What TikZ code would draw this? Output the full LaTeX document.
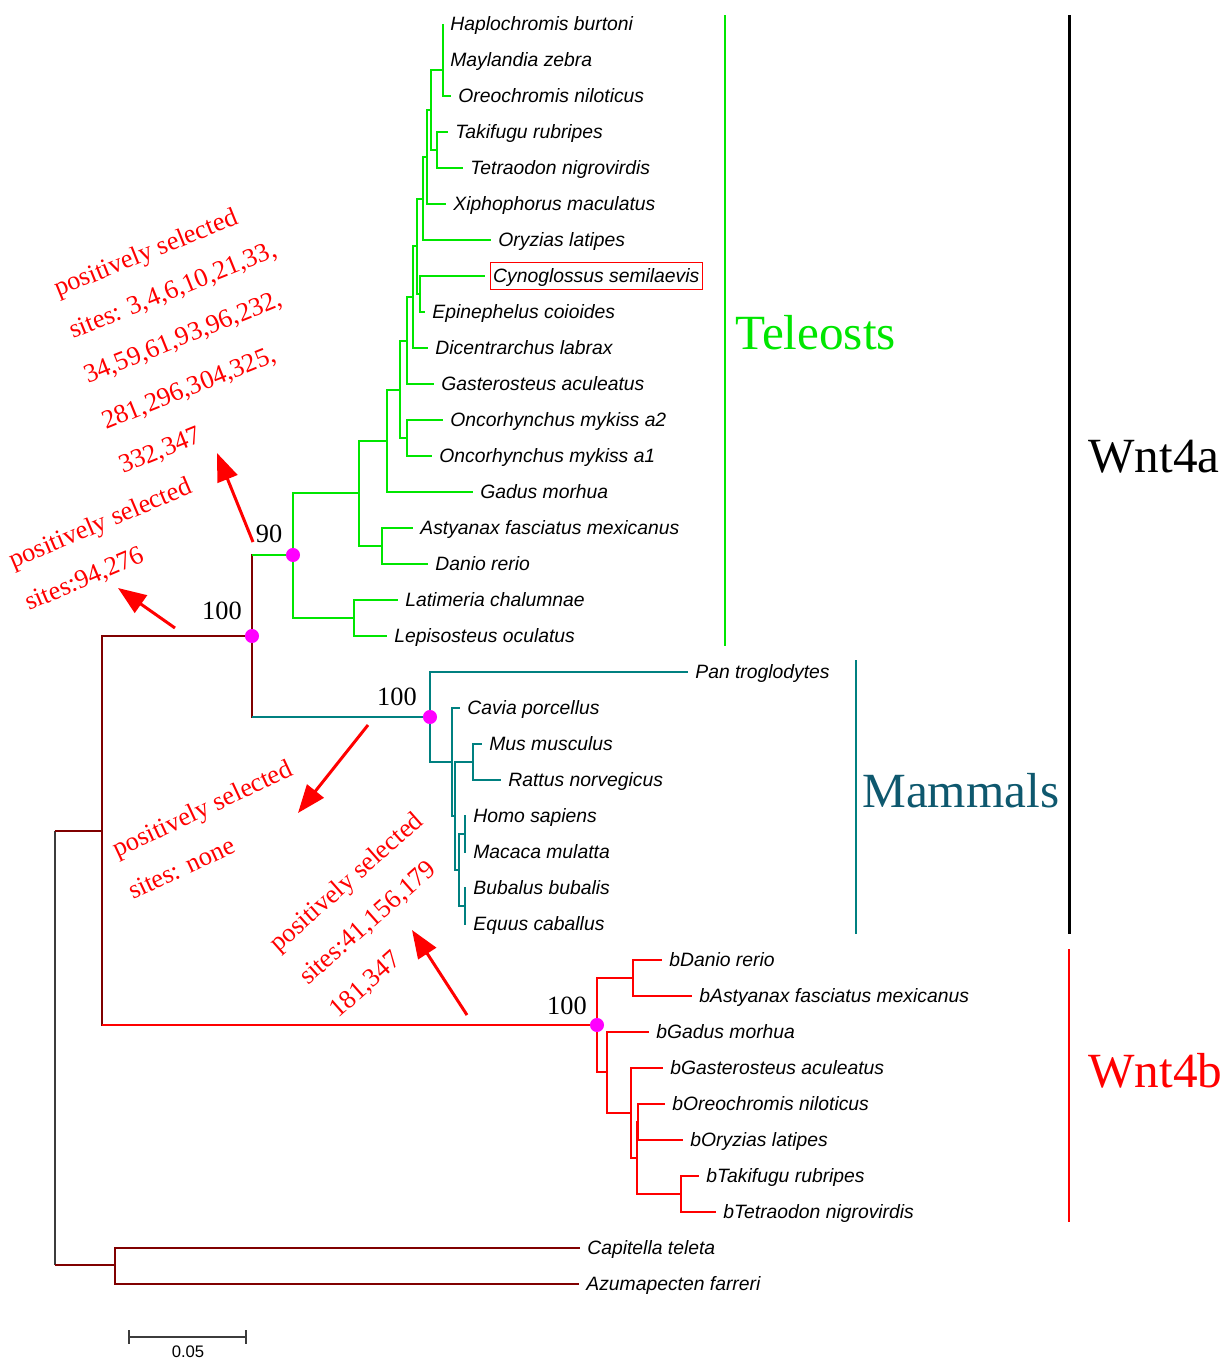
\documentclass[tikz,border=0pt]{standalone}
\usepackage{fontspec}
\setmainfont{Liberation Serif}
\newfontfamily\leaffont{Liberation Sans}
\usepackage{tikz}
\usetikzlibrary{arrows.meta}
\definecolor{telgreen}{RGB}{0,230,0}
\definecolor{mamteal}{RGB}{0,128,128}
\definecolor{mamlabel}{RGB}{14,88,110}
\definecolor{rootred}{RGB}{128,0,0}
\definecolor{bred}{RGB}{255,0,0}
\definecolor{dotpink}{RGB}{255,0,255}
\definecolor{rootgray}{RGB}{60,60,60}

\begin{document}
\begin{tikzpicture}[x=0.02cm, y=-0.02cm,
  leaf/.style={anchor=west, inner xsep=4pt, inner ysep=0pt, text height=7.9pt, text depth=0pt, font=\leaffont\itshape\fontsize{11}{13}\selectfont},
  br/.style={line width=1.6pt},
  boot/.style={inner sep=0pt, font=\fontsize{15}{18}\selectfont},
  clade/.style={anchor=west, inner sep=0pt, font=\fontsize{28}{32}\selectfont},
  sel/.style={red, anchor=base west, inner sep=0pt, font=\fontsize{15}{17}\selectfont},
  selarrow/.style={red, line width=1.7pt, -{Triangle[length=16pt,width=12pt]}},
  dot/.style={circle, fill=dotpink, inner sep=0pt, minimum size=8pt}]
\useasboundingbox [fill=white] (0,0) rectangle (1223,1359);

\node [leaf] (hap) at (443,24) {Haplochromis burtoni};
\node [leaf] (may) at (443,60) {Maylandia zebra};
\node [leaf] (oreo) at (451,96) {Oreochromis niloticus};
\node [leaf] (taki) at (448,132) {Takifugu rubripes};
\node [leaf] (tetra) at (463,168) {Tetraodon nigrovirdis};
\node [leaf] (xipho) at (446,204) {Xiphophorus maculatus};
\node [leaf] (oryz) at (491,240) {Oryzias latipes};
\node [leaf, draw=red, line width=0.6pt, inner xsep=1.5pt, inner ysep=4pt] (cyno) at (490,276) {Cynoglossus semilaevis};
\coordinate (cynotip) at (485,276);
\node [leaf] (epi) at (425,312) {Epinephelus coioides};
\node [leaf] (dicen) at (428,348) {Dicentrarchus labrax};
\node [leaf] (gast) at (434,384) {Gasterosteus aculeatus};
\node [leaf] (onca2) at (443,420) {Oncorhynchus mykiss a2};
\node [leaf] (onca1) at (432,456) {Oncorhynchus mykiss a1};
\node [leaf] (gadus) at (473,492) {Gadus morhua};
\node [leaf] (asty) at (413,528) {Astyanax fasciatus mexicanus};
\node [leaf] (danio) at (428,564) {Danio rerio};
\node [leaf] (lati) at (398,600) {Latimeria chalumnae};
\node [leaf] (lepi) at (387,636) {Lepisosteus oculatus};

\node [leaf] (pan) at (688,672) {Pan troglodytes};
\node [leaf] (cavia) at (460,708) {Cavia porcellus};
\node [leaf] (mus) at (482,744) {Mus musculus};
\node [leaf] (rattus) at (501,780) {Rattus norvegicus};
\node [leaf] (homo) at (466,816) {Homo sapiens};
\node [leaf] (macaca) at (466,852) {Macaca mulatta};
\node [leaf] (bubalus) at (466,888) {Bubalus bubalis};
\node [leaf] (equus) at (466,924) {Equus caballus};

\node [leaf] (bdanio) at (662,960) {bDanio rerio};
\node [leaf] (basty) at (692,996) {bAstyanax fasciatus mexicanus};
\node [leaf] (bgadus) at (649,1032) {bGadus morhua};
\node [leaf] (bgast) at (663,1068) {bGasterosteus aculeatus};
\node [leaf] (boreo) at (665,1104) {bOreochromis niloticus};
\node [leaf] (boryz) at (683,1140) {bOryzias latipes};
\node [leaf] (btaki) at (699,1176) {bTakifugu rubripes};
\node [leaf] (btetra) at (716,1212) {bTetraodon nigrovirdis};

\node [leaf] (capi) at (580,1248) {Capitella teleta};
\node [leaf] (azu) at (579,1284) {Azumapecten farreri};

\coordinate (t1) at (443,70);
\coordinate (t2) at (431,110);
\coordinate (t3) at (437,150);
\coordinate (t4) at (427,157);
\coordinate (t5) at (423,199);
\coordinate (t6) at (420,294);
\coordinate (t7) at (417,246);
\coordinate (t8) at (413,297);
\coordinate (t9) at (407,341);
\coordinate (t10) at (407,438);
\coordinate (t11) at (400,390);
\coordinate (t12) at (387,441);
\coordinate (t13) at (382,546);
\coordinate (t14) at (359,493);
\coordinate (t15) at (354,618);
\coordinate (tel) at (293,555);

\coordinate (m1) at (473,762);
\coordinate (m2) at (465,834);
\coordinate (m3) at (465,906);
\coordinate (m4) at (459,870);
\coordinate (m5) at (455,816);
\coordinate (m6) at (452,762);
\coordinate (mam) at (430,717);

\coordinate (b1) at (633,978);
\coordinate (b2) at (681,1194);
\coordinate (b3) at (638,1122);
\coordinate (b4) at (637,1158);
\coordinate (b5) at (631,1113);
\coordinate (b6) at (607,1072);
\coordinate (wntb) at (597,1025);

\coordinate (wnta) at (252,636);
\coordinate (ing) at (102,831);
\coordinate (og) at (115,1265);
\coordinate (root) at (55,1048);

\foreach \a/\b in {t1/hap.west, t1/may.west, t1/oreo.west, t3/taki.west, t3/tetra.west,
  t2/t1, t2/t3, t4/t2, t4/xipho.west, t5/t4, t5/oryz.west, t6/cynotip, t6/epi.west,
  t7/t5, t7/t6, t8/t7, t8/dicen.west, t9/t8, t9/gast.west, t10/onca2.west, t10/onca1.west,
  t11/t9, t11/t10, t12/t11, t12/gadus.west, t13/asty.west, t13/danio.west,
  t14/t12, t14/t13, t15/lati.west, t15/lepi.west, tel/t14, tel/t15}
  \draw [br, telgreen] (\a) |- (\b);

\foreach \a/\b in {m1/mus.west, m1/rattus.west, m2/homo.west, m2/macaca.west,
  m3/bubalus.west, m3/equus.west, m4/m2, m4/m3, m5/m1, m5/m4,
  m6/cavia.west, m6/m5, mam/pan.west, mam/m6}
  \draw [br, mamteal] (\a) |- (\b);

\foreach \a/\b in {b1/bdanio.west, b1/basty.west, b2/btaki.west, b2/btetra.west,
  b3/boreo.west, b3/boryz.west, b4/b3, b4/b2, b5/bgast.west, b5/b4,
  b6/bgadus.west, b6/b5, wntb/b1, wntb/b6}
  \draw [br, bred] (\a) |- (\b);

\draw [br, rootred, line cap=rect] (tel -| wnta) -- (mam -| wnta);
\draw [br, telgreen] (tel -| wnta) -- (tel);
\draw [br, mamteal] (mam -| wnta) -- (mam);
\draw [br, rootred, line cap=rect] (wnta -| ing) -- (wntb -| ing);
\draw [br, rootred] (wnta -| ing) -- (wnta);
\draw [br, bred] (wntb -| ing) -- (wntb);
\draw [line width=0.8pt, rootgray] (ing -| root) -- (og -| root);
\draw [br, rootred] (ing -| root) -- (ing);
\draw [br, rootred] (og -| root) -- (og);
\draw [br, rootred] (og) |- (capi.west);
\draw [br, rootred] (og) |- (azu.west);

\node [dot] (dtel) at (tel) {};
\node [dot] (dwnta) at (wnta) {};
\node [dot] (dmam) at (mam) {};
\node [dot] (dwntb) at (wntb) {};
\node [boot] (bs90) at (269,534) {90};
\node [boot] (bswnta) at (222,611) {100};
\node [boot] (bsmam) at (397,697) {100};
\node [boot] (bswntb) at (567,1006) {100};

\draw [line width=1.5pt, telgreen] (725,15) -- (725,646);
\draw [line width=1.5pt, mamteal] (856,660) -- (856,934);
\draw [line width=1.7pt, black] (1069,15) -- (1069,934);
\draw [line width=1.5pt, bred] (1069,949) -- (1069,1222);
\node [clade, telgreen] (teleosts) at (735,333) {Teleosts};
\node [clade, mamlabel] (mammals) at (862,791) {Mammals};
\node [clade, black] (wnt4a) at (1088,457) {Wnt4a};
\node [clade, bred] (wnt4b) at (1088,1071) {Wnt4b};

\node [sel, rotate=22] (selA1) at (58,297) {positively selected};
\node [sel, rotate=22] (selA2) at (73,339) {sites: 3,4,6,10,21,33,};
\node [sel, rotate=22] (selA3) at (88,384) {34,59,61,93,96,232,};
\node [sel, rotate=22] (selA4) at (106,430) {281,296,304,325,};
\node [sel, rotate=22] (selA5) at (123,474) {332,347};
\node [sel, rotate=23] (selB1) at (13,569) {positively selected};
\node [sel, rotate=23] (selB2) at (29,611) {sites:94,276};
\node [sel, rotate=25] (selC1) at (117,858) {positively selected};
\node [sel, rotate=25] (selC2) at (133,900) {sites: none};
\node [sel, rotate=41.5] (selD1) at (278,953) {positively selected};
\node [sel, rotate=41.5] (selD2) at (308,986) {sites:41,156,179};
\node [sel, rotate=41.5] (selD3) at (338,1019) {181,347};

\coordinate (arrA0) at (253,542);
\coordinate (arrA1) at (217,453);
\coordinate (arrB0) at (175,628);
\coordinate (arrB1) at (118,588);
\coordinate (arrC0) at (368,725);
\coordinate (arrC1) at (298,813);
\coordinate (arrD0) at (467,1015);
\coordinate (arrD1) at (412,930);
\draw [selarrow] (arrA0) -- (arrA1);
\draw [selarrow] (arrB0) -- (arrB1);
\draw [selarrow] (arrC0) -- (arrC1);
\draw [selarrow] (arrD0) -- (arrD1);

\draw [line width=0.8pt, rootgray] (129,1337) -- (246,1337);
\draw [line width=0.8pt, rootgray] (129,1330) -- (129,1344);
\draw [line width=0.8pt, rootgray] (246,1330) -- (246,1344);
\node [inner sep=0pt, font=\leaffont\fontsize{9.5}{11}\selectfont] (scale) at (188,1352) {0.05};

\end{tikzpicture}
\end{document}
